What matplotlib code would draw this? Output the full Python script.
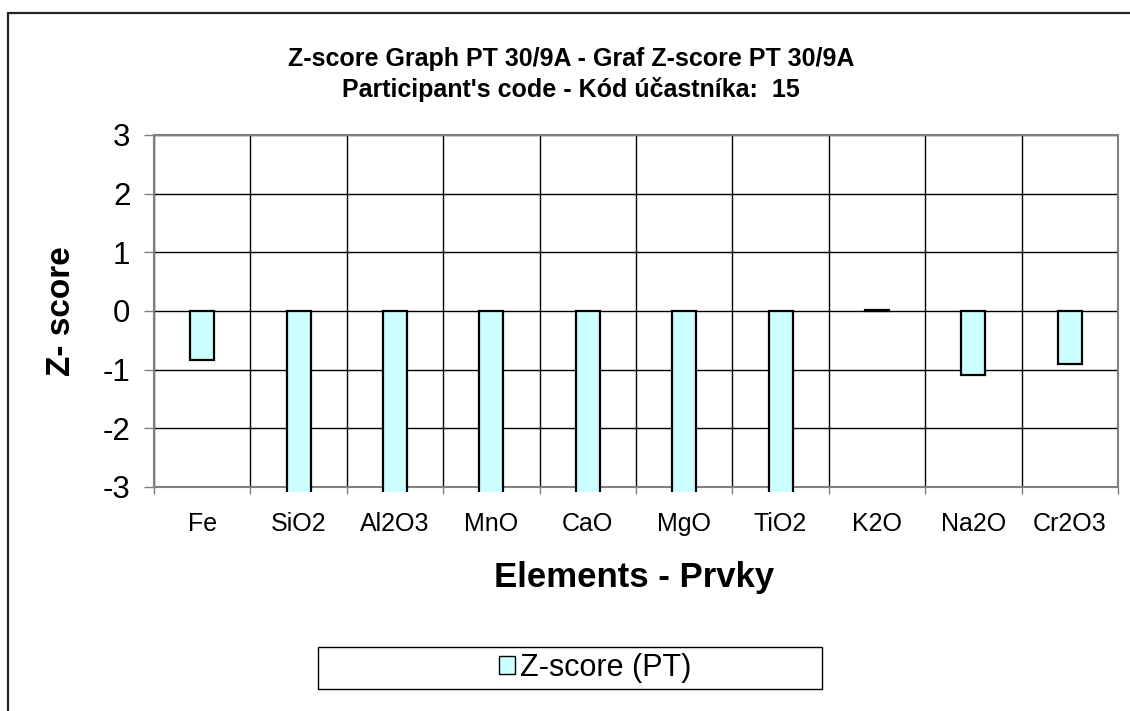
import matplotlib
matplotlib.use("Agg")
import matplotlib.pyplot as plt
from matplotlib.patches import Rectangle, Patch
from matplotlib.transforms import Bbox, TransformedBbox
import numpy as np

categories = ["Fe", "SiO2", "Al2O3", "MnO", "CaO", "MgO", "TiO2", "K2O", "Na2O", "Cr2O3"]
zscores = [-0.84, -5.0, -5.0, -5.0, -5.0, -5.0, -5.0, 0.02, -1.09, -0.90]
yticks = [3, 2, 1, 0, -1, -2, -3]

plt.rcParams['font.family'] = ['Liberation Sans', 'DejaVu Sans']

W, H = 1130, 711
fig = plt.figure(figsize=(W / 100, H / 100), dpi=100)

def fx(px):
    return px / W

def fy(py):
    return 1 - py / H

# outer chart border (extends past right and bottom edges)
fig.patches.append(Rectangle((fx(8), fy(760)), fx(1200), fy(13) - fy(760),
                             transform=fig.transFigure, fill=False,
                             edgecolor='#222222', linewidth=1.6))

ax = fig.add_axes([fx(154), fy(487), fx(1118) - fx(154), fy(135) - fy(487)])
x = np.arange(len(categories))
bars = ax.bar(x, zscores, width=0.25, color='#CCFFFF', edgecolor='black',
              linewidth=1.6, zorder=3)
clip = TransformedBbox(Bbox([[0, -0.015], [1, 1.0]]), ax.transAxes)
for b in bars:
    b.set_clip_box(clip)

ax.set_xlim(-0.5, len(categories) - 0.5)
ax.set_ylim(-3, 3)
ax.set_yticks(yticks)
ax.set_yticklabels([str(v) for v in yticks], fontsize=22.5)
ax.set_xticks(x)
ax.set_xticklabels(categories, fontsize=18)
ax.set_xticks(np.arange(-0.5, len(categories), 1.0), minor=True)
ax.tick_params(axis='x', which='major', length=0, pad=18)
ax.tick_params(axis='x', which='minor', length=5, width=1, color='#808080', direction='out')
ax.tick_params(axis='y', which='major', length=7, width=1, color='#808080', pad=10)
ax.grid(True, axis='y', which='major', color='black', linewidth=1.0, zorder=1)
ax.grid(True, axis='x', which='minor', color='black', linewidth=1.0, zorder=1)
ax.set_axisbelow(True)
for s in ax.spines.values():
    s.set_color('#808080')
    s.set_linewidth(1.5)

fig.text(fx(571), fy(59), "Z-score Graph PT 30/9A - Graf Z-score PT 30/9A",
         ha='center', va='center', fontsize=18, fontweight='bold')
fig.text(fx(571), fy(90), "Participant's code - Kód účastníka:  15",
         ha='center', va='center', fontsize=18, fontweight='bold')

fig.text(fx(634), fy(577), "Elements - Prvky", ha='center', va='center',
         fontsize=25, fontweight='bold')
fig.text(fx(61), fy(311), "Z- score", ha='center', va='center', rotation=90,
         fontsize=24, fontweight='bold')

# legend frame
fig.patches.append(Rectangle((fx(318), fy(689)), fx(822) - fx(318), fy(647) - fy(689),
                             transform=fig.transFigure, fill=False,
                             edgecolor='black', linewidth=1.0))
handle = Patch(facecolor='#CCFFFF', edgecolor='black', linewidth=1.0)
fig.legend([handle], ["Z-score (PT)"], loc='center', bbox_to_anchor=(fx(595), fy(668)),
           frameon=False, fontsize=22, handlelength=0.55, handleheight=0.55,
           handletextpad=0.15, borderpad=0.0)

fig.savefig("out.png", dpi=100)
